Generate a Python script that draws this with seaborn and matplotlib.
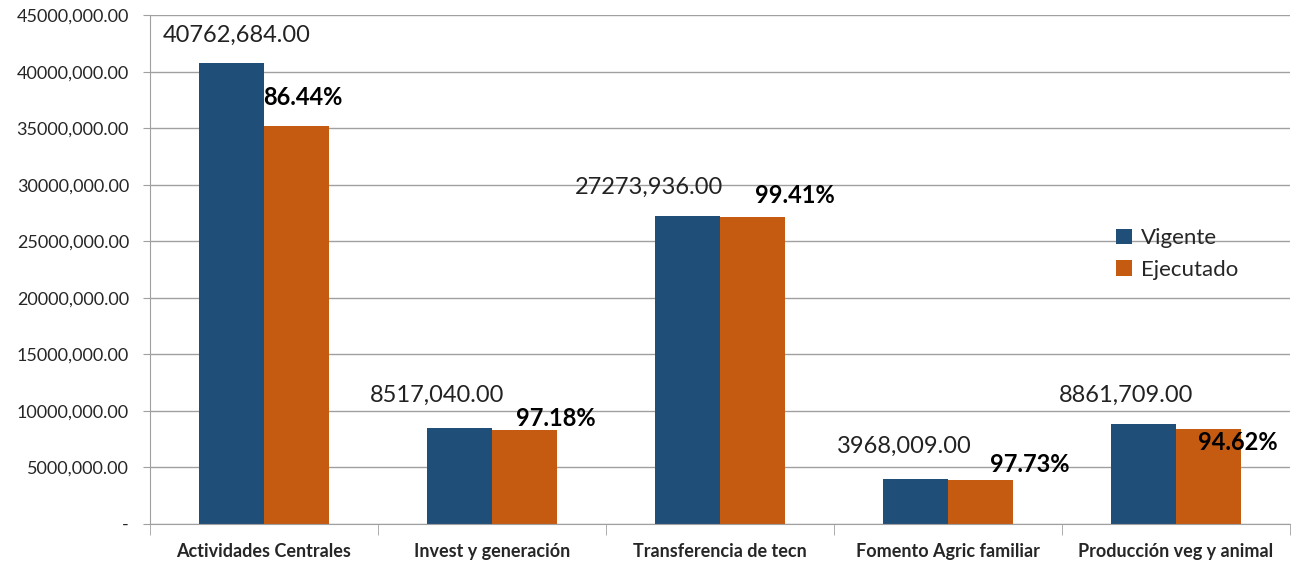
import pandas as pd
import matplotlib.pyplot as plt
import seaborn as sns
from matplotlib.ticker import FuncFormatter, FixedLocator

# Datos
categorias = ['Actividades Centrales', 'Invest y generación', 'Transferencia de tecn',
              'Fomento Agric familiar', 'Producción veg y animal']
vigente = [40762684, 8517040, 27273936, 3968009, 8861709]
ejecutado = [35235000, 8277000, 27113000, 3878000, 8385000]
porcentajes = ['86.44%', '97.18%', '99.41%', '97.73%', '94.62%']

# posiciones de las etiquetas (desplazamiento en x, altura en y)
off_vig = [-0.12, -0.24, -0.31, -0.19, -0.22]
y_vig = [43230000, 11400000, 29790000, 6810000, 11400000]
off_pct = [0.17, 0.28, 0.33, 0.36, 0.27]
y_pct = [37750000, 9280000, 29080000, 5220000, 7160000]

df = pd.DataFrame({
    'Categoria': categorias * 2,
    'Serie': ['Vigente'] * 5 + ['Ejecutado'] * 5,
    'Monto': vigente + ejecutado,
})

sns.set_style('white')
plt.rcParams['font.family'] = ['Lato', 'DejaVu Sans']

def fmt(v, pos=None):
    if v == 0:
        return '-'
    v = int(round(v))
    return f"{v // 1000},{v % 1000:03d}.00"

fig = plt.figure(figsize=(13.03, 5.65), dpi=100)
ax = fig.add_axes([0.115, 0.073, 0.875, 0.9])
sns.barplot(data=df, x='Categoria', y='Monto', hue='Serie',
            palette=['#1F4E79', '#C55A11'], width=0.57, gap=0,
            saturation=1, linewidth=0, ax=ax)

ax.set_ylim(0, 45000000)
ax.set_xlim(-0.5, 4.5)
ax.set_yticks(range(0, 45000001, 5000000))
ax.yaxis.set_major_formatter(FuncFormatter(fmt))
ax.grid(axis='y', color='#A0A0A0', linewidth=1)
ax.set_axisbelow(True)
ax.set_xlabel('')
ax.set_ylabel('')

for s in ['top', 'right']:
    ax.spines[s].set_visible(False)
for s in ['left', 'bottom']:
    ax.spines[s].set_color('#A0A0A0')

ax.tick_params(axis='y', labelsize=13, length=5, color='#A0A0A0', left=True, pad=10)
ax.tick_params(axis='x', which='major', length=0, labelsize=13, pad=14)
ax.xaxis.set_minor_locator(FixedLocator([-0.5, 0.5, 1.5, 2.5, 3.5, 4.5]))
ax.tick_params(axis='x', which='minor', length=8, color='#A0A0A0', bottom=True)
for lbl in ax.get_xticklabels():
    lbl.set_fontweight('bold')

for i in range(5):
    ax.text(i + off_vig[i], y_vig[i], fmt(vigente[i]), ha='center', va='center',
            fontsize=17, color='#222222')
    ax.text(i + off_pct[i], y_pct[i], porcentajes[i], ha='center', va='center',
            fontsize=17, fontweight='bold', color='black')

ax.legend(loc='upper left', bbox_to_anchor=(0.83, 0.62), frameon=False,
          fontsize=16, handlelength=0.7, handleheight=0.7, handletextpad=0.4,
          labelspacing=0.5)

plt.savefig('out.png', dpi=100)
